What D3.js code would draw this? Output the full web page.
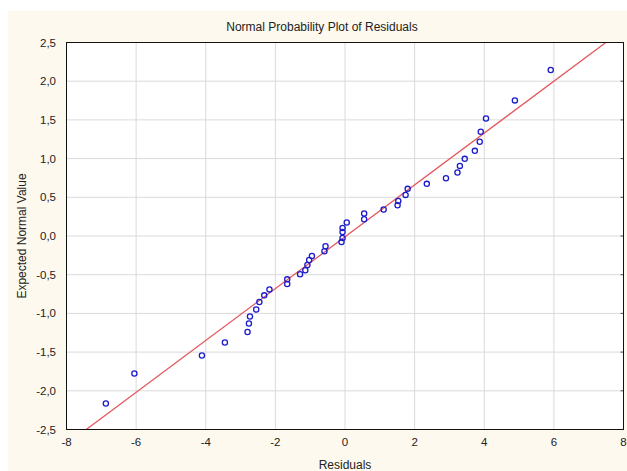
<!DOCTYPE html>
<html lang="en">

<head>
  <meta charset="utf-8">
  <title>Normal Probability Plot of Residuals</title>
  <script src="https://d3js.org/d3.v7.min.js"></script>
  <style>
    body { margin: 0; background: white; }
    text { font-family: "Liberation Sans", Arial, sans-serif; fill: #222; }
    .tick-label { font-size: 11.5px; }
    .title { font-size: 12px; text-anchor: middle; }
  </style>
</head>

<body>
  <div id="chart"></div>
  <script>
    var w = 627;
    var h = 471;

    // data
    var residuals = [-6.87, -6.05, -4.11, -3.45, -2.80, -2.76, -2.73, -2.55, -2.46, -2.32, -2.17,
      -1.66, -1.66, -1.29, -1.14, -1.08, -1.03, -0.95, -0.59, -0.56, -0.10, -0.07, -0.07, -0.07,
      0.05, 0.55, 0.55, 1.11, 1.51, 1.53, 1.74, 1.80, 2.35, 2.90, 3.23, 3.30, 3.44, 3.73, 3.87,
      3.90, 4.05, 4.88, 5.91];
    var expected = [-2.165, -1.776, -1.543, -1.375, -1.24, -1.13, -1.04, -0.95, -0.853, -0.767, -0.69,
      -0.62, -0.56, -0.495, -0.443, -0.374, -0.31, -0.258, -0.197, -0.133, -0.077, -0.025, 0.052, 0.104,
      0.174, 0.217, 0.29, 0.342, 0.398, 0.453, 0.531, 0.609, 0.674, 0.747, 0.82, 0.906, 0.997, 1.10, 1.217,
      1.346, 1.519, 1.752, 2.144];
    var xTicks = [-8, -6, -4, -2, 0, 2, 4, 6, 8];
    var yTicks = [-2.5, -2.0, -1.5, -1.0, -0.5, 0.0, 0.5, 1.0, 1.5, 2.0, 2.5];
    var lineSlope = 0.335;
    var lineIntercept = -0.01;

    var pLeft = 66.5, pRight = 623.5, pTop = 42.5, pBottom = 429.5;

    var x = d3.scaleLinear().domain([-8, 8]).range([pLeft, pRight]);
    var y = d3.scaleLinear().domain([-2.5, 2.5]).range([pBottom, pTop]);
    var fmt = function (d) { return d3.format('.1f')(d).replace('.', ',').replace('−', '-'); };

    var svg = d3.select('#chart').append('svg')
      .attr('width', w)
      .attr('height', h);

    // cream panel
    svg.append('rect')
      .attr('x', 8).attr('y', 11)
      .attr('width', w - 8).attr('height', h - 11)
      .attr('fill', '#fdf9ee');

    svg.append('rect')
      .attr('x', pLeft).attr('y', pTop)
      .attr('width', pRight - pLeft).attr('height', pBottom - pTop)
      .attr('fill', 'white');

    // grid
    svg.selectAll('line.vgrid')
      .data(xTicks.slice(1, -1))
      .enter().append('line')
      .attr('class', 'vgrid')
      .attr('x1', function (d) { return x(d); })
      .attr('x2', function (d) { return x(d); })
      .attr('y1', pTop).attr('y2', pBottom)
      .attr('stroke', '#dadada');

    svg.selectAll('line.hgrid')
      .data(yTicks.slice(1, -1))
      .enter().append('line')
      .attr('class', 'hgrid')
      .attr('x1', pLeft).attr('x2', pRight)
      .attr('y1', function (d) { return y(d); })
      .attr('y2', function (d) { return y(d); })
      .attr('stroke', '#dadada');

    // small inner ticks on the right side
    svg.selectAll('line.rtick')
      .data(yTicks.slice(1, -1))
      .enter().append('line')
      .attr('class', 'rtick')
      .attr('x1', pRight - 3).attr('x2', pRight)
      .attr('y1', function (d) { return y(d); })
      .attr('y2', function (d) { return y(d); })
      .attr('stroke', '#555');

    svg.append('clipPath').attr('id', 'plot')
      .append('rect')
      .attr('x', pLeft).attr('y', pTop)
      .attr('width', pRight - pLeft).attr('height', pBottom - pTop);

    // fitted line
    svg.append('line')
      .attr('clip-path', 'url(#plot)')
      .attr('x1', x(-8)).attr('y1', y(lineSlope * -8 + lineIntercept))
      .attr('x2', x(8)).attr('y2', y(lineSlope * 8 + lineIntercept))
      .attr('stroke', '#e35a5f')
      .attr('stroke-width', 1.3);

    // points
    svg.selectAll('circle.pt')
      .data(residuals)
      .enter().append('circle')
      .attr('class', 'pt')
      .attr('cx', function (d) { return x(d); })
      .attr('cy', function (d, i) { return y(expected[i]); })
      .attr('r', 2.6)
      .attr('fill', 'none')
      .attr('stroke', '#1c1ccc')
      .attr('stroke-width', 1.3);

    // frame
    svg.append('rect')
      .attr('x', pLeft).attr('y', pTop)
      .attr('width', pRight - pLeft).attr('height', pBottom - pTop)
      .attr('fill', 'none')
      .attr('stroke', '#111');

    // tick labels
    svg.selectAll('text.xl')
      .data(xTicks)
      .enter().append('text')
      .attr('class', 'tick-label')
      .attr('x', function (d) { return x(d); })
      .attr('y', 446)
      .attr('text-anchor', 'middle')
      .text(function (d) { return d; });

    svg.selectAll('text.yl')
      .data(yTicks)
      .enter().append('text')
      .attr('class', 'tick-label')
      .attr('x', 56)
      .attr('y', function (d) { return y(d); })
      .attr('dy', '.35em')
      .attr('text-anchor', 'end')
      .text(fmt);

    svg.append('text')
      .attr('class', 'title')
      .attr('x', 322).attr('y', 31)
      .text('Normal Probability Plot of Residuals');

    svg.append('text')
      .attr('class', 'title')
      .attr('x', 345).attr('y', 469)
      .text('Residuals');

    svg.append('text')
      .attr('class', 'title')
      .attr('transform', 'translate(26,236) rotate(-90)')
      .text('Expected Normal Value');
  </script>
</body>

</html>
